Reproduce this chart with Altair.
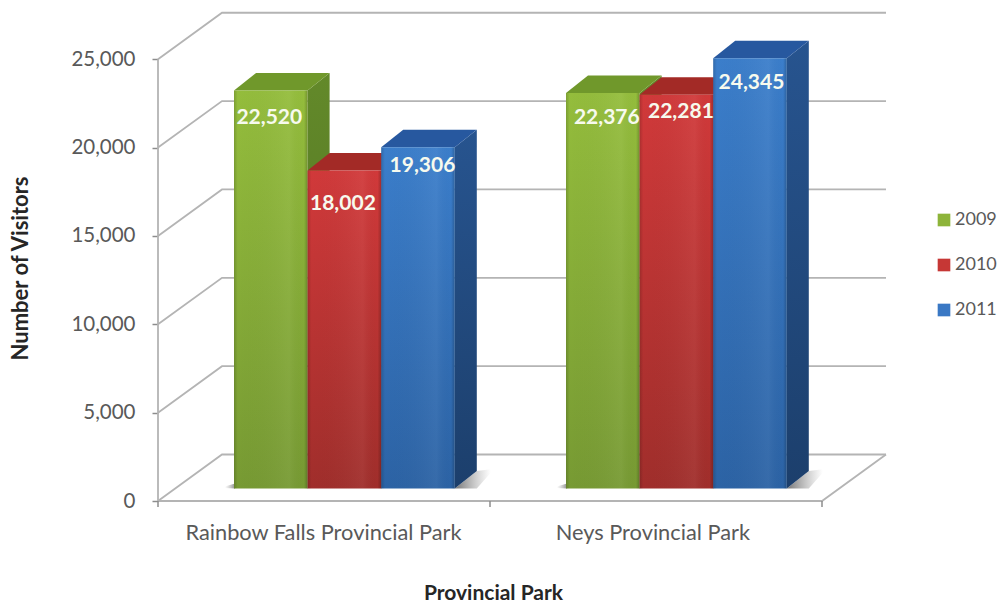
import altair as alt
import pandas as pd

PARKS = ["Rainbow Falls Provincial Park", "Neys Provincial Park"]
YEARS = ["2009", "2010", "2011"]
V2009 = [22520, 22376]
V2010 = [18002, 22281]
V2011 = [19306, 24345]
VALUES = [V2009, V2010, V2011]
TICKS = [0, 5000, 10000, 15000, 20000, 25000]

# layout, in scale units (one x unit = one park's slot on the floor's front edge)
PX_X = 332.0
PX_Y = 0.01767
XMAX = 727 / PX_X
YMAX = 489 / PX_Y
WALL_X = 64 / PX_X
WALL_Y = 46.5 / PX_Y
BAR_LEFT = 76 / PX_X
BAR_W = 73.6 / PX_X
BAR_BASE = 12.5 / PX_Y
DEPTH_X = 22 / PX_X
DEPTH_Y = 17.5 / PX_Y
LABEL_DROP = [[27, 34, 19], [25, 17, 25]]
LABEL_SHIFT = [[-1.5, -1.5, 4.5], [4, 4.5, 1.5]]

FRONT = [("#94bd3c", "#779a33"), ("#d1393a", "#a02e2b"), ("#3b7ecb", "#2c63a5")]
TOP = ["#70982b", "#a32a26", "#27589f"]
SIDE = [("#63892a", "#4d7020"), ("#8f2a26", "#742320"), ("#27548f", "#1c3f6c")]
LEGEND = ["#8db43a", "#c63735", "#3a78c4"]
GRID = "#b4b4b4"
TEXT = "#595959"
FONT = "Lato"

XS = alt.Scale(domain=[0, XMAX], nice=False, zero=False)
YS = alt.Scale(domain=[0, YMAX], nice=False, zero=False)
XAXIS = alt.Axis(
    values=[0.497, 1.489], labelExpr=f"datum.value < 1 ? '{PARKS[0]}' : '{PARKS[1]}'",
    title="Provincial Park", ticks=False, domain=False, grid=False,
    labelFont=FONT, labelFontSize=21.8, labelColor=TEXT, labelPadding=21, labelLimit=500,
    titleFont=FONT, titleFontSize=21, titleFontWeight="bold", titleColor="#262626",
    titleX=335, titleY=81, labelFlush=False)
YAXIS = alt.Axis(
    values=TICKS, labelExpr="format(datum.value, ',')", title="Number of Visitors", grid=False, domain=False,
    tickColor="#8c8c8c", tickSize=6, tickWidth=1.5, labelPadding=17,
    labelFont=FONT, labelFontSize=20.5, labelColor=TEXT,
    titleFont=FONT, titleFontSize=22, titleFontWeight="bold", titleColor="#262626",
    titleX=-126, titleY=256)
X = alt.X("x:Q", scale=XS, axis=XAXIS)
Y = alt.Y("y:Q", scale=YS, axis=YAXIS, stack=None)


def vgrad(a, b):
    return alt.Gradient(gradient="linear", x1=0, y1=0, x2=0, y2=1,
                        stops=[alt.GradientStop(offset=0, color=a), alt.GradientStop(offset=1, color=b)])


EDGE = alt.Gradient(gradient="linear", x1=0, y1=0, x2=1, y2=0, stops=[
    alt.GradientStop(offset=0, color="rgba(0,0,0,0.16)"),
    alt.GradientStop(offset=0.05, color="rgba(0,0,0,0)"),
    alt.GradientStop(offset=0.75, color="rgba(255,255,255,0.05)"),
    alt.GradientStop(offset=0.95, color="rgba(0,0,0,0)"),
    alt.GradientStop(offset=1, color="rgba(0,0,0,0.22)")])


def area(rows, fill, **kw):
    d = pd.DataFrame(rows, columns=["sid", "x", "y", "y2"])
    return alt.Chart(d).mark_area(fill=fill, **kw).encode(
        x=X, y=Y, y2="y2:Q", detail="sid:N",
    )


# back walls and floor
grid_rows = []
for v in TICKS:
    grid_rows += [(f"g{v}", 0, v, 0), (f"g{v}", WALL_X, v + WALL_Y, 1), (f"g{v}", 2 + WALL_X, v + WALL_Y, 2)]
grid_rows += [("front", 0, 0, 0), ("front", 2, 0, 1), ("front", 2 + WALL_X, WALL_Y, 2),
              ("axis", 0, 0, 0), ("axis", 0, 25000, 1)]
grid = alt.Chart(pd.DataFrame(grid_rows, columns=["s", "x", "y", "o"])).mark_line(
    color=GRID, strokeWidth=1.8, clip=False
).encode(x=X, y=Y, detail="s:N", order="o:Q")

xticks = alt.Chart(pd.DataFrame({"x": [0, 1, 2], "y": [0, 0, 0], "y2": [-6 / PX_Y] * 3})).mark_rule(
    color="#8c8c8c", strokeWidth=1.5, clip=False
).encode(x=X, y=Y, y2="y2:Q")

# floor shadows
shadow_grad = alt.Gradient(gradient="linear", x1=0, y1=0, x2=1, y2=0, stops=[
    alt.GradientStop(offset=0, color="rgba(70,70,70,0.75)"),
    alt.GradientStop(offset=1, color="rgba(120,120,120,0)")])
shadow_left = alt.Gradient(gradient="linear", x1=0, y1=0, x2=1, y2=0, stops=[
    alt.GradientStop(offset=0, color="rgba(120,120,120,0)"),
    alt.GradientStop(offset=1, color="rgba(70,70,70,0.6)")])
sh_rows, shl_rows = [], []
for g in range(len(PARKS)):
    right = g + BAR_LEFT + 3 * BAR_W
    sh_rows += [(f"s{g}", right, BAR_BASE, BAR_BASE),
                (f"s{g}", right + DEPTH_X, BAR_BASE, BAR_BASE + DEPTH_Y),
                (f"s{g}", right + DEPTH_X + 14 / PX_X, BAR_BASE + DEPTH_Y * 0.9, BAR_BASE + DEPTH_Y * 1.1)]
    left = g + BAR_LEFT
    shl_rows += [(f"l{g}", left - 9 / PX_X, BAR_BASE + 0.5 / PX_Y, BAR_BASE + 2 / PX_Y),
                 (f"l{g}", left + 1 / PX_X, BAR_BASE, BAR_BASE + 5 / PX_Y)]
layers = [grid, xticks, area(sh_rows, shadow_grad), area(shl_rows, shadow_left)]

# legend carrier, hidden behind the bars
legend_df = pd.DataFrame({"year": YEARS, "x": [BAR_LEFT + 0.01] * 3, "y": [BAR_BASE + 50] * 3})
layers.append(alt.Chart(legend_df).mark_square(size=1, opacity=1).encode(
    x=X, y=Y,
    color=alt.Color("year:N", scale=alt.Scale(domain=YEARS, range=LEGEND), legend=alt.Legend(
        title=None, orient="none", legendX=777, legendY=199, symbolType="square", symbolSize=160,
        labelFont=FONT, labelFontSize=18, labelColor=TEXT, rowPadding=27, labelOffset=2,
        symbolOpacity=1, symbolStrokeWidth=0)),
))

# bars, drawn left to right so each front covers its neighbour's side
for s in range(len(YEARS)):
    tops, sides, fronts = [], [], []
    for g in range(len(PARKS)):
        v = VALUES[s][g]
        l = g + BAR_LEFT + s * BAR_W
        r = l + BAR_W
        t = BAR_BASE + v
        tops += [(f"t{g}", l, t, t),
                 (f"t{g}", l + DEPTH_X, t, t + DEPTH_Y),
                 (f"t{g}", r, t, t + DEPTH_Y),
                 (f"t{g}", r + DEPTH_X, t + DEPTH_Y, t + DEPTH_Y)]
        sides += [(f"d{g}", r, BAR_BASE, t),
                  (f"d{g}", r + DEPTH_X, BAR_BASE + DEPTH_Y, t + DEPTH_Y)]
        fronts.append({"x": l, "x2": r, "y": BAR_BASE, "y2": t})
    layers.append(area(sides, vgrad(*SIDE[s])))
    layers.append(area(tops, TOP[s]))
    fd = pd.DataFrame(fronts)
    layers.append(alt.Chart(fd).mark_rect(fill=vgrad(*FRONT[s])).encode(
        x=X, x2="x2:Q", y=Y, y2="y2:Q",
    ))
    layers.append(alt.Chart(fd).mark_rect(fill=EDGE).encode(
        x=X, x2="x2:Q", y=Y, y2="y2:Q",
    ))

# value labels
label_rows = []
for s in range(len(YEARS)):
    for g in range(len(PARKS)):
        v = VALUES[s][g]
        label_rows.append({
            "value": v,
            "x": g + BAR_LEFT + (s + 0.5) * BAR_W + LABEL_SHIFT[g][s] / PX_X,
            "y": BAR_BASE + v - LABEL_DROP[g][s] / PX_Y,
        })
layers.append(alt.Chart(pd.DataFrame(label_rows)).mark_text(
    color="#f7faee", font=FONT, fontSize=21, fontWeight="bold", baseline="middle", align="center"
).encode(x=X, y=Y, text=alt.Text("value:Q", format=",")))

chart = alt.layer(*layers).properties(
    width=727, height=489,
    background="white",
    autosize=alt.AutoSizeParams(type="none"),
    padding={"left": 150, "top": 4, "right": 113, "bottom": 102},
).configure_view(stroke=None)

chart.save("out.html", embed_options={"renderer": "svg", "actions": False})
